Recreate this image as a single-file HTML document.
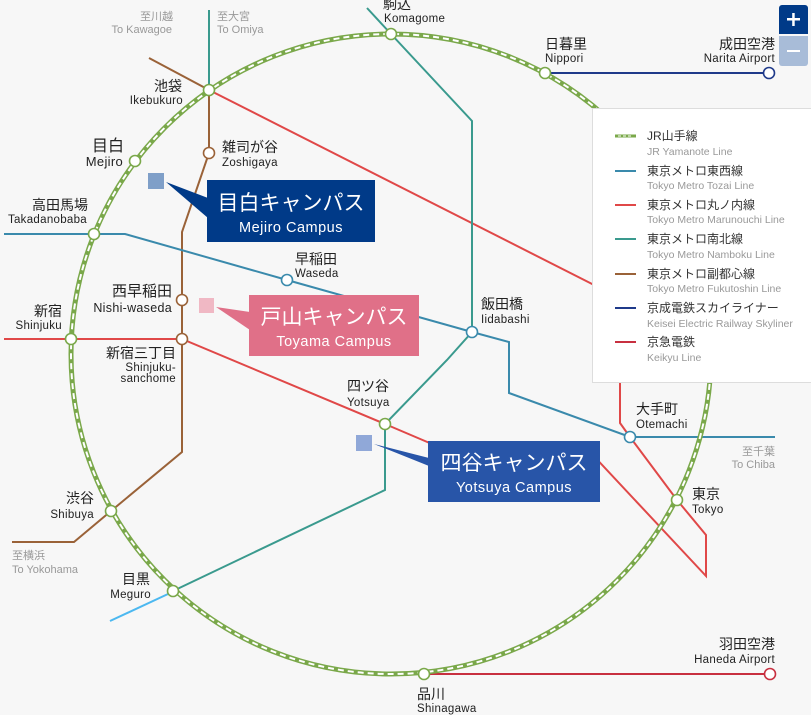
<!DOCTYPE html>
<html><head><meta charset="utf-8"><style>
html,body{margin:0;padding:0;background:#f7f7f7;width:811px;height:715px;overflow:hidden}
svg{display:block}
text{font-family:"Liberation Sans","Noto Sans CJK JP",sans-serif}
.j{font-size:14px;fill:#222}
.e{font-size:11.5px;fill:#222;letter-spacing:0.3px}
.gj{font-size:11px;fill:#999}
.ge{font-size:11px;fill:#999}
.lj{font-size:12px;fill:#333}
.le{font-size:10.5px;fill:#999}
.cj{font-size:21px;fill:#fff}
.ce{font-size:14.5px;fill:#fff;letter-spacing:0.5px}
</style></head><body>
<svg width="811" height="715" viewBox="0 0 811 715" xmlns="http://www.w3.org/2000/svg">
<rect width="811" height="715" fill="#f7f7f7"/>
<g fill="none" stroke-width="2">
<polyline stroke="#e04848" points="4,339 182,339 385,424 540,490 590,452 706,576 706,535 677,500 630,437 620,423 620,375"/>
<polyline stroke="#e04848" points="209,90 600,288"/>
<polyline stroke="#3a9a8e" points="367,8 391,34 472,121 472,332 447,360 385,424 385,490 173,591"/>
<polyline stroke="#3a9a8e" points="209,10 209,90"/>
<polyline stroke="#9a6238" points="149,58 209,90 209,153 182,232 182,452 111,511 74,542 12,542"/>
<polyline stroke="#3a8aac" points="4,234 125,234 287,280 472,332 509,342 509,393 630,437 775,437"/>
<polyline stroke="#4cb8f0" points="168,594 110,621"/>
<polyline stroke="#1f3a8a" points="545,73 769,73"/>
<polyline stroke="#c83040" points="424,674 764,674"/>
</g>
<circle cx="391" cy="354" r="320" fill="none" stroke="#7aa84a" stroke-width="5"/>
<circle cx="391" cy="354" r="320" fill="none" stroke="#fff" stroke-width="2" stroke-dasharray="6 4"/>
<g fill="#fff" stroke-width="1.6">
<g stroke="#7aa84a">
<circle cx="391" cy="34" r="5.5"/><circle cx="545" cy="73" r="5.5"/><circle cx="209" cy="90" r="5.5"/>
<circle cx="135" cy="161" r="5.5"/><circle cx="94" cy="234" r="5.5"/><circle cx="71" cy="339" r="5.5"/>
<circle cx="111" cy="511" r="5.5"/><circle cx="173" cy="591" r="5.5"/><circle cx="424" cy="674" r="5.5"/>
<circle cx="677" cy="500" r="5.5"/><circle cx="385" cy="424" r="5.5"/>
</g>
<g stroke="#9a6238"><circle cx="209" cy="153" r="5.5"/><circle cx="182" cy="300" r="5.5"/><circle cx="182" cy="339" r="5.5"/></g>
<g stroke="#3a8aac"><circle cx="287" cy="280" r="5.5"/><circle cx="472" cy="332" r="5.5"/><circle cx="630" cy="437" r="5.5"/></g>
<circle cx="769" cy="73" r="5.5" stroke="#1f3a8a"/>
<circle cx="770" cy="674" r="5.5" stroke="#c83040"/>
</g>
<text class="j" x="383" y="9">駒込</text><text class="e" x="384" y="22">Komagome</text>
<text class="j" x="545" y="49">日暮里</text><text class="e" x="545" y="62">Nippori</text>
<text class="j" x="775" y="49" text-anchor="end">成田空港</text><text class="e" x="775" y="62" text-anchor="end">Narita Airport</text>
<text class="gj" x="173" y="20" text-anchor="end">至川越</text><text class="ge" x="172" y="33" text-anchor="end">To Kawagoe</text>
<text class="gj" x="217" y="20">至大宮</text><text class="ge" x="217" y="33">To Omiya</text>
<text class="j" x="182" y="91" text-anchor="end">池袋</text><text class="e" x="183" y="104" text-anchor="end">Ikebukuro</text>
<text class="j" x="222" y="152">雑司が谷</text><text class="e" x="222" y="166">Zoshigaya</text>
<text class="j" x="124" y="151" text-anchor="end" style="font-size:16px">目白</text><text class="e" x="123" y="166" text-anchor="end" style="font-size:13px">Mejiro</text>
<text class="j" x="88" y="210" text-anchor="end">高田馬場</text><text class="e" x="87" y="223" text-anchor="end">Takadanobaba</text>
<text class="j" x="295" y="264">早稲田</text><text class="e" x="295" y="277">Waseda</text>
<text class="j" x="172" y="296" text-anchor="end" style="font-size:15px">西早稲田</text><text class="e" x="172" y="312" text-anchor="end" style="font-size:12.5px">Nishi-waseda</text>
<text class="j" x="62" y="316" text-anchor="end">新宿</text><text class="e" x="62" y="329" text-anchor="end">Shinjuku</text>
<text class="j" x="176" y="358" text-anchor="end">新宿三丁目</text>
<text class="e" x="176" y="371" text-anchor="end">Shinjuku-</text><text class="e" x="176" y="382" text-anchor="end">sanchome</text>
<text class="j" x="481" y="309">飯田橋</text><text class="e" x="481" y="323">Iidabashi</text>
<text class="j" x="347" y="391">四ツ谷</text><text class="e" x="347" y="406">Yotsuya</text>
<text class="j" x="636" y="414">大手町</text><text class="e" x="636" y="428">Otemachi</text>
<text class="gj" x="775" y="455" text-anchor="end">至千葉</text><text class="ge" x="775" y="468" text-anchor="end">To Chiba</text>
<text class="j" x="692" y="499">東京</text><text class="e" x="692" y="513">Tokyo</text>
<text class="j" x="94" y="503" text-anchor="end">渋谷</text><text class="e" x="94" y="518" text-anchor="end">Shibuya</text>
<text class="gj" x="12" y="559">至横浜</text><text class="ge" x="12" y="573">To Yokohama</text>
<text class="j" x="150" y="584" text-anchor="end">目黒</text><text class="e" x="151" y="598" text-anchor="end">Meguro</text>
<text class="j" x="775" y="649" text-anchor="end">羽田空港</text><text class="e" x="775" y="663" text-anchor="end">Haneda Airport</text>
<text class="j" x="417" y="699">品川</text><text class="e" x="417" y="712">Shinagawa</text>
<rect x="148" y="173" width="16" height="16" fill="#7f9fc8"/>
<polygon points="166,182 208,198 208,218" fill="#003a88"/>
<rect x="207" y="180" width="168" height="62" fill="#003a88"/>
<text class="cj" x="291" y="210" text-anchor="middle">目白キャンパス</text>
<text class="ce" x="291" y="232" text-anchor="middle">Mejiro Campus</text>
<rect x="199" y="298" width="15" height="15" fill="#f0b8c4"/>
<polygon points="216,307 250,312 250,330" fill="#e07088"/>
<rect x="249" y="295" width="170" height="61" fill="#e07088"/>
<text class="cj" x="334" y="324" text-anchor="middle">戸山キャンパス</text>
<text class="ce" x="334" y="346" text-anchor="middle">Toyama Campus</text>
<rect x="356" y="435" width="16" height="16" fill="#90a8d8"/>
<polygon points="374,444 429,458 429,466" fill="#2855a8"/>
<rect x="428" y="441" width="172" height="61" fill="#2855a8"/>
<text class="cj" x="514" y="470" text-anchor="middle">四谷キャンパス</text>
<text class="ce" x="514" y="492" text-anchor="middle">Yotsuya Campus</text>
<rect x="592.5" y="108.5" width="230" height="274" fill="#fff" stroke="#ddd"/>
<g stroke-width="2">
<line x1="615" y1="136" x2="636" y2="136" stroke="#7aa84a" stroke-width="3"/>
<line x1="618" y1="136" x2="633" y2="136" stroke="#fff" stroke-width="1" stroke-dasharray="3 2"/>
<line x1="615" y1="171" x2="636" y2="171" stroke="#3a8aac"/>
<line x1="615" y1="205" x2="636" y2="205" stroke="#e04848"/>
<line x1="615" y1="239" x2="636" y2="239" stroke="#3a9a8e"/>
<line x1="615" y1="274" x2="636" y2="274" stroke="#9a6238"/>
<line x1="615" y1="308" x2="636" y2="308" stroke="#1f3a8a"/>
<line x1="615" y1="342" x2="636" y2="342" stroke="#c83040"/>
</g>
<text class="lj" x="647" y="140">JR山手線</text><text class="le" x="647" y="155">JR Yamanote Line</text>
<text class="lj" x="647" y="175">東京メトロ東西線</text><text class="le" x="647" y="189">Tokyo Metro Tozai Line</text>
<text class="lj" x="647" y="209">東京メトロ丸ノ内線</text><text class="le" x="647" y="223">Tokyo Metro Marunouchi Line</text>
<text class="lj" x="647" y="243">東京メトロ南北線</text><text class="le" x="647" y="258">Tokyo Metro Namboku Line</text>
<text class="lj" x="647" y="278">東京メトロ副都心線</text><text class="le" x="647" y="292">Tokyo Metro Fukutoshin Line</text>
<text class="lj" x="647" y="312">京成電鉄スカイライナー</text><text class="le" x="647" y="327">Keisei Electric Railway Skyliner</text>
<text class="lj" x="647" y="346">京急電鉄</text><text class="le" x="647" y="361">Keikyu Line</text>
<path d="M779,8 a3,3 0 0 1 3,-3 h23 a3,3 0 0 1 3,3 v26 h-29 z" fill="#003a88"/>
<path d="M779,36 h29 v27 a3,3 0 0 1 -3,3 h-23 a3,3 0 0 1 -3,-3 z" fill="#a8bcd8"/>
<rect x="787" y="18" width="13" height="2.5" fill="#fff"/><rect x="792.2" y="13" width="2.5" height="13" fill="#fff"/>
<rect x="787" y="50" width="13" height="2" fill="#fff"/>
</svg>
</body></html>
